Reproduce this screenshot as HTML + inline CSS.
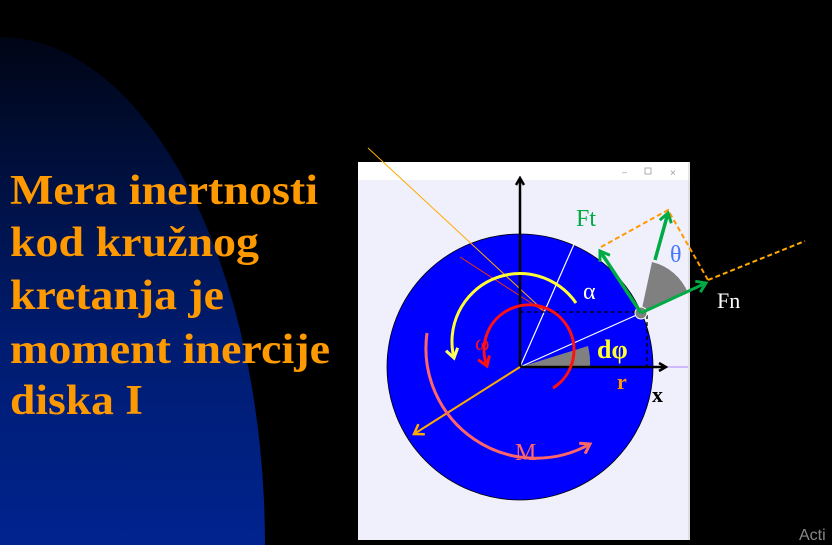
<!DOCTYPE html>
<html><head><meta charset="utf-8"><style>
html,body{margin:0;padding:0;background:#000;width:832px;height:545px;overflow:hidden;}
svg{display:block}
</style></head><body>
<svg width="832" height="545" viewBox="0 0 832 545" xmlns="http://www.w3.org/2000/svg">
<defs>
<linearGradient id="bg" x1="0" y1="0" x2="0" y2="1">
<stop offset="0" stop-color="#000515"/><stop offset="0.3" stop-color="#001c70"/><stop offset="0.75" stop-color="#002cb4"/><stop offset="1" stop-color="#0033cc"/>
</linearGradient>
<marker id="ab" markerWidth="10" markerHeight="10" refX="8" refY="5" orient="auto" markerUnits="userSpaceOnUse"><path d="M1,1 L8,5 L1,9" fill="none" stroke="#000" stroke-width="2.5"/></marker>
<marker id="ag" markerWidth="14" markerHeight="14" refX="10" refY="7" orient="auto" markerUnits="userSpaceOnUse"><path d="M1,1 L10,7 L1,13" fill="none" stroke="#00aa44" stroke-width="3"/></marker>
<marker id="ao" markerWidth="14" markerHeight="14" refX="10" refY="7" orient="auto" markerUnits="userSpaceOnUse"><path d="M1,1 L10,7 L1,13" fill="none" stroke="#ffaa00" stroke-width="2.5"/></marker>
<marker id="ay" markerWidth="14" markerHeight="14" refX="10" refY="7" orient="auto" markerUnits="userSpaceOnUse"><path d="M1,1 L10,7 L1,13" fill="none" stroke="#ffff66" stroke-width="3"/></marker>
<marker id="ar" markerWidth="14" markerHeight="14" refX="10" refY="7" orient="auto" markerUnits="userSpaceOnUse"><path d="M1,1 L10,7 L1,13" fill="none" stroke="#ff1111" stroke-width="3"/></marker>
<marker id="am" markerWidth="14" markerHeight="14" refX="10" refY="7" orient="auto" markerUnits="userSpaceOnUse"><path d="M1,1 L10,7 L1,13" fill="none" stroke="#ff6666" stroke-width="3"/></marker>
</defs>
<rect width="832" height="545" fill="#000"/>
<ellipse cx="0" cy="545" rx="265" ry="508" fill="url(#bg)"/>
<g font-family="'Liberation Serif',serif" font-weight="bold" font-size="42" fill="#ff9900">
<text x="10" y="204" textLength="308" lengthAdjust="spacingAndGlyphs">Mera inertnosti</text>
<text x="10" y="256" textLength="249" lengthAdjust="spacingAndGlyphs">kod kružnog</text>
<text x="10" y="309" textLength="214" lengthAdjust="spacingAndGlyphs">kretanja je</text>
<text x="10" y="363" textLength="320" lengthAdjust="spacingAndGlyphs">moment inercije</text>
<text x="10" y="414" textLength="133" lengthAdjust="spacingAndGlyphs">diska I</text>
</g>
<g>
<rect x="358" y="162" width="332" height="378" fill="#f0f0fc"/>
<rect x="358" y="162" width="332" height="18" fill="#ffffff"/>
<text x="622" y="175" font-family="'Liberation Sans',sans-serif" font-size="9" fill="#999">–</text>
<rect x="645" y="168" width="6" height="6" fill="none" stroke="#999" stroke-width="0.8"/>
<text x="670" y="176" font-family="'Liberation Sans',sans-serif" font-size="10" fill="#999">×</text>
<line x1="689" y1="162" x2="689" y2="540" stroke="#ccc" stroke-width="1"/>
</g>
<circle cx="520" cy="367" r="133" fill="#0000ff" stroke="#000" stroke-width="0.8"/>
<line x1="520" y1="367" x2="688" y2="367" stroke="#b080ff" stroke-width="1"/>
<line x1="368" y1="148" x2="545" y2="312" stroke="#ffaa00" stroke-width="1"/>
<line x1="460" y1="257" x2="545" y2="312" stroke="#ff3300" stroke-width="1"/>
<path d="M520,367 L588,346 A70,70 0 0 1 590,367 Z" fill="#808080"/>
<line x1="520" y1="367" x2="641" y2="313" stroke="#fff" stroke-width="1.2"/>
<line x1="520" y1="367" x2="575" y2="242" stroke="#fff" stroke-width="1.2"/>
<path d="M641,313 L652,262 A52,52 0 0 1 688,293 Z" fill="#808080"/>
<line x1="520" y1="312" x2="647" y2="312" stroke="#000" stroke-width="1.3" stroke-dasharray="4,3"/>
<line x1="647" y1="315" x2="647" y2="367" stroke="#000" stroke-width="1.3" stroke-dasharray="4,3"/>
<circle cx="641" cy="313" r="6" fill="#808080" stroke="#fff" stroke-width="1"/>
<line x1="520" y1="367" x2="520" y2="178" stroke="#000" stroke-width="2.5" marker-end="url(#ab)"/>
<line x1="520" y1="367" x2="666" y2="367" stroke="#000" stroke-width="2.5" marker-end="url(#ab)"/>
<line x1="520" y1="367" x2="414" y2="434" stroke="#ffaa00" stroke-width="2" marker-end="url(#ao)"/>
<path d="M576,303 A68,68 0 0 0 454,358" fill="none" stroke="#ffff33" stroke-width="3" marker-end="url(#ay)"/>
<path d="M553,388 A45,45 0 1 0 487,366" fill="none" stroke="#ff1111" stroke-width="3" marker-end="url(#ar)"/>
<path d="M427,333 A110,110 0 0 0 590,444" fill="none" stroke="#ff6666" stroke-width="3" marker-end="url(#am)"/>
<polyline points="601,247 668,210 708,280" fill="none" stroke="#ff9900" stroke-width="2" stroke-dasharray="5,3"/>
<line x1="708" y1="280" x2="805" y2="241" stroke="#ffaa00" stroke-width="2" stroke-dasharray="5,3"/>
<line x1="641" y1="313" x2="600" y2="251" stroke="#00aa44" stroke-width="3.5" marker-end="url(#ag)"/>
<line x1="655" y1="260" x2="668" y2="213" stroke="#00aa44" stroke-width="3.5" marker-end="url(#ag)"/>
<line x1="641" y1="313" x2="706" y2="283" stroke="#00aa44" stroke-width="3" marker-end="url(#ag)"/>
<g font-family="'Liberation Serif',serif">
<text x="576" y="226" font-size="24" fill="#00aa44">Ft</text>
<text x="670" y="262" font-size="24" fill="#4477ff">θ</text>
<text x="717" y="308" font-size="22" fill="#fff">Fn</text>
<text x="583" y="299" font-size="24" fill="#fff">α</text>
<text x="475" y="350" font-size="22" fill="#ff1111">ω</text>
<text x="597" y="358" font-size="26" font-weight="bold" fill="#ffff33">dφ</text>
<text x="617" y="389" font-size="22" font-weight="bold" fill="#ff9900">r</text>
<text x="652" y="402" font-size="22" font-weight="bold" fill="#000">x</text>
<text x="515" y="460" font-size="24" fill="#ff6666">M</text>
</g>
<text x="799" y="540" font-family="'Liberation Sans',sans-serif" font-size="16" fill="#888">Acti</text>
</svg>
</body></html>
